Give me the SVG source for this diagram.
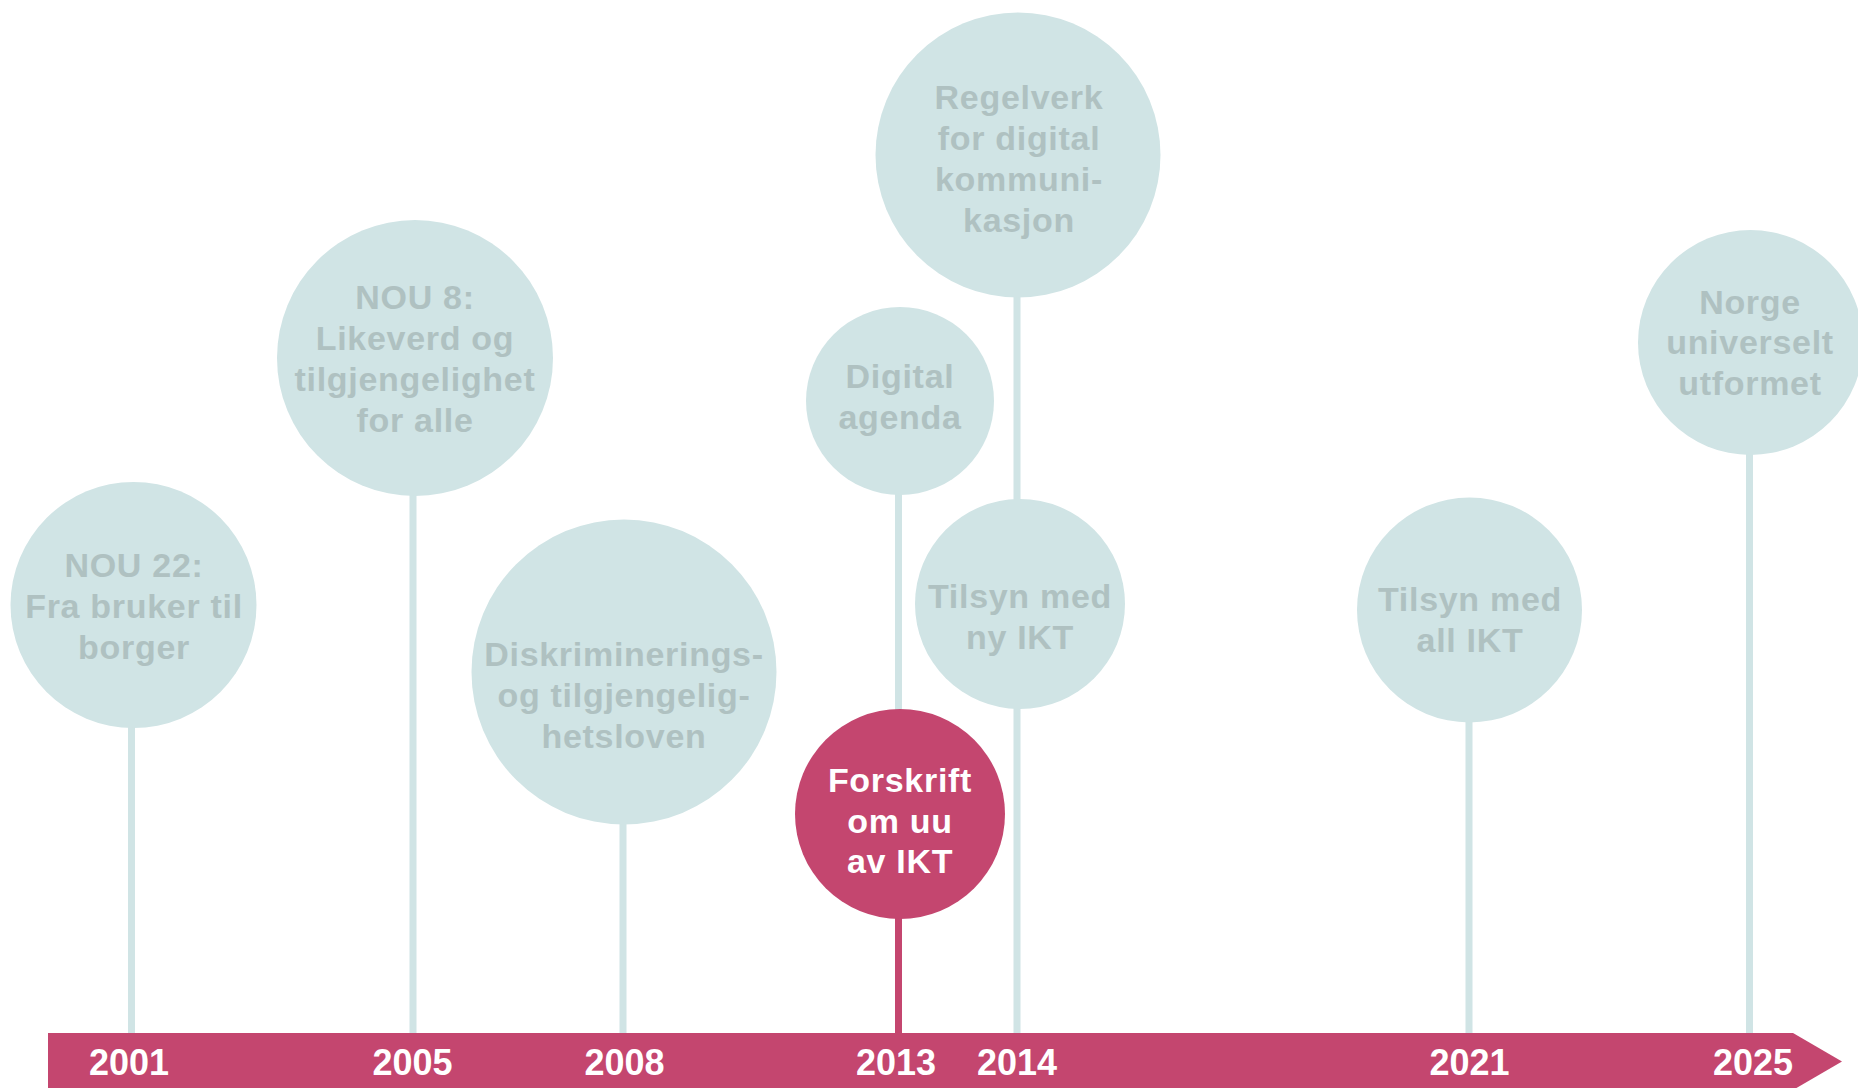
<svg xmlns="http://www.w3.org/2000/svg" width="1858" height="1088" viewBox="0 0 1858 1088">
<style>
.stem{stroke:#d0e4e5;stroke-width:7;fill:none}
.stem-hi{stroke:#c4466f;stroke-width:7;fill:none}
.bub{fill:#d0e4e5}
.bub-hi{fill:#c4466f}
.t{font-family:"Liberation Sans",Arial,sans-serif;font-weight:bold;font-size:34px;letter-spacing:0.7px;fill:#afc1c1;text-anchor:middle}
.t-hi{font-family:"Liberation Sans",Arial,sans-serif;font-weight:bold;font-size:34px;letter-spacing:0.7px;fill:#ffffff;text-anchor:middle}
.yr{font-family:"Liberation Sans",Arial,sans-serif;font-weight:bold;font-size:36px;fill:#ffffff;text-anchor:middle}
</style>
<rect width="1858" height="1088" fill="#ffffff"/>
<g id="connectors">
<line class="stem" x1="131.5" y1="700" x2="131.5" y2="1034"/>
<line class="stem" x1="413" y1="450" x2="413" y2="1034"/>
<line class="stem" x1="623" y1="780" x2="623" y2="1034"/>
<line class="stem" x1="898.5" y1="460" x2="898.5" y2="730"/>
<line class="stem-hi" x1="898.5" y1="900" x2="898.5" y2="1034"/>
<line class="stem" x1="1017" y1="260" x2="1017" y2="1034"/>
<line class="stem" x1="1469" y1="680" x2="1469" y2="1034"/>
<line class="stem" x1="1749.5" y1="420" x2="1749.5" y2="1034"/>
</g>
<g id="timeline">
<polygon points="48,1033 1793,1033 1842,1061.5 1793,1090 48,1090" fill="#c4466f"/>
<text class="yr" x="129" y="1075">2001</text>
<text class="yr" x="412.5" y="1075">2005</text>
<text class="yr" x="624.5" y="1075">2008</text>
<text class="yr" x="896" y="1075">2013</text>
<text class="yr" x="1017" y="1075">2014</text>
<text class="yr" x="1469.5" y="1075">2021</text>
<text class="yr" x="1753" y="1075">2025</text>
</g>
<g id="nou22">
<circle class="bub" cx="133.5" cy="605" r="123"/>
<text class="t" x="134" y="577">NOU 22:</text>
<text class="t" x="134" y="618">Fra bruker til</text>
<text class="t" x="134" y="659">borger</text>
</g>
<g id="nou8">
<circle class="bub" cx="415" cy="358" r="138"/>
<text class="t" x="415" y="309">NOU 8:</text>
<text class="t" x="415" y="350">Likeverd og</text>
<text class="t" x="415" y="391">tilgjengelighet</text>
<text class="t" x="415" y="432">for alle</text>
</g>
<g id="diskriminering">
<circle class="bub" cx="624" cy="672" r="152.5"/>
<text class="t" x="624" y="666">Diskriminerings-</text>
<text class="t" x="624" y="707">og tilgjengelig-</text>
<text class="t" x="624" y="748">hetsloven</text>
</g>
<g id="digital-agenda">
<circle class="bub" cx="900" cy="401" r="94"/>
<text class="t" x="900" y="388">Digital</text>
<text class="t" x="900" y="429">agenda</text>
</g>
<g id="regelverk">
<circle class="bub" cx="1018" cy="155" r="142.5"/>
<text class="t" x="1019" y="109">Regelverk</text>
<text class="t" x="1019" y="150">for digital</text>
<text class="t" x="1019" y="191">kommuni-</text>
<text class="t" x="1019" y="232">kasjon</text>
</g>
<g id="tilsyn-ny">
<circle class="bub" cx="1020" cy="604" r="105"/>
<text class="t" x="1020" y="608">Tilsyn med</text>
<text class="t" x="1020" y="649">ny IKT</text>
</g>
<g id="forskrift">
<circle class="bub-hi" cx="900" cy="814" r="105"/>
<text class="t-hi" x="900" y="792">Forskrift</text>
<text class="t-hi" x="900" y="833">om uu</text>
<text class="t-hi" x="900" y="873">av IKT</text>
</g>
<g id="tilsyn-all">
<circle class="bub" cx="1469.5" cy="610" r="112.5"/>
<text class="t" x="1470" y="611">Tilsyn med</text>
<text class="t" x="1470" y="652">all IKT</text>
</g>
<g id="norge">
<circle class="bub" cx="1750.5" cy="342.5" r="112.5"/>
<text class="t" x="1750" y="314">Norge</text>
<text class="t" x="1750" y="354">universelt</text>
<text class="t" x="1750" y="395">utformet</text>
</g>
</svg>
